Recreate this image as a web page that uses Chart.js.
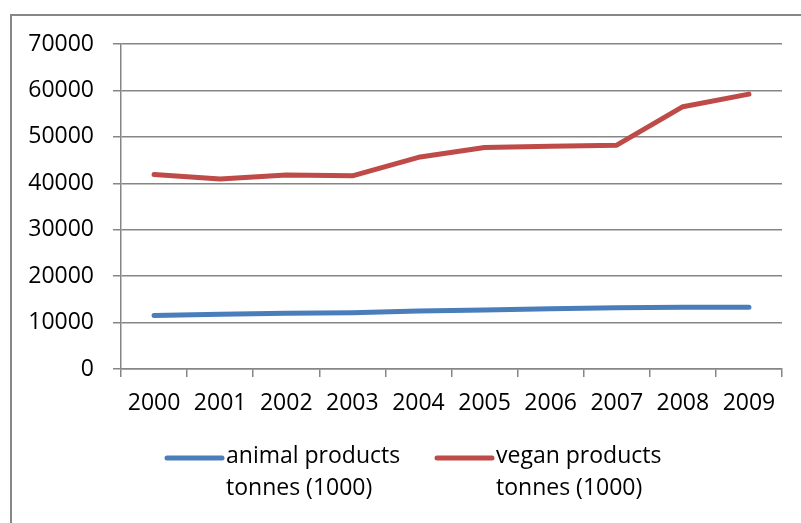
<!DOCTYPE html>
<html>
<head>
<meta charset="utf-8">
<script src="https://cdn.jsdelivr.net/npm/chart.js@4/dist/chart.umd.min.js"></script>
<style>
  html, body { margin: 0; padding: 0; background: #ffffff; }
  #wrap { width: 801px; height: 523px; position: relative; }
</style>
</head>
<body>
<div id="wrap"><canvas id="chart" width="801" height="523"></canvas></div>
<script>
// Years on the category axis
const years = ['2000', '2001', '2002', '2003', '2004', '2005', '2006', '2007', '2008', '2009'];

// Production, thousands of tonnes
const animalProducts = [11500, 11800, 12000, 12100, 12500, 12700, 13000, 13200, 13300, 13300];
const veganProducts  = [41900, 40900, 41800, 41600, 45600, 47700, 48000, 48200, 56500, 59200];

// Legend names (two lines each)
const animalName = ['animal products', 'tonnes (1000)'];
const veganName  = ['vegan products', 'tonnes (1000)'];

// Value axis ticks
const yTicks = [0, 10000, 20000, 30000, 40000, 50000, 60000, 70000];

const AXIS_GREY = '#868686';
const FONT_FAMILY = '"Open Sans", "Noto Sans", sans-serif';
const FONT = { family: FONT_FAMILY, size: 23 };

// Grey frame around the chart
const framePlugin = {
  id: 'frame',
  beforeDraw(chart) {
    const ctx = chart.ctx;
    ctx.save();
    ctx.fillStyle = '#ffffff';
    ctx.fillRect(0, 0, chart.width, chart.height);
    ctx.strokeStyle = '#878787';
    ctx.lineWidth = 2;
    ctx.beginPath();
    ctx.moveTo(11, chart.height + 2);
    ctx.lineTo(11, 15);
    ctx.lineTo(chart.width + 2, 15);
    ctx.stroke();
    ctx.restore();
  }
};

// Legend below the axis: a line sample followed by a two-line name
const legendSlots = [
  { lineX: 167, textX: 226 },
  { lineX: 437, textX: 496 }
];
const bottomLegendPlugin = {
  id: 'bottomLegend',
  afterDraw(chart) {
    const ctx = chart.ctx;
    const firstLineY = 456;
    const lineStep = 32;
    ctx.save();
    chart.data.datasets.forEach((ds, i) => {
      const slot = legendSlots[i];
      ctx.strokeStyle = ds.borderColor;
      ctx.lineWidth = ds.borderWidth;
      ctx.lineCap = 'round';
      ctx.beginPath();
      ctx.moveTo(slot.lineX, firstLineY + 2);
      ctx.lineTo(slot.lineX + 55, firstLineY + 2);
      ctx.stroke();
      ctx.fillStyle = '#000000';
      ctx.font = `${FONT.size}px ${FONT_FAMILY}`;
      ctx.textAlign = 'left';
      ctx.textBaseline = 'middle';
      const lines = Array.isArray(ds.label) ? ds.label : [ds.label];
      lines.forEach((t, k) => ctx.fillText(t, slot.textX, firstLineY + k * lineStep));
    });
    ctx.restore();
  }
};

new Chart(document.getElementById('chart'), {
  type: 'line',
  data: {
    labels: years,
    datasets: [
      {
        label: animalName,
        data: animalProducts,
        borderColor: '#4A7EBB',
        backgroundColor: '#4A7EBB',
        borderWidth: 5,
        borderCapStyle: 'round',
        borderJoinStyle: 'round',
        pointRadius: 0,
        tension: 0
      },
      {
        label: veganName,
        data: veganProducts,
        borderColor: '#BE4B48',
        backgroundColor: '#BE4B48',
        borderWidth: 5,
        borderCapStyle: 'round',
        borderJoinStyle: 'round',
        pointRadius: 0,
        tension: 0
      }
    ]
  },
  options: {
    responsive: false,
    animation: false,
    layout: { padding: { left: 0, right: 19, top: 44, bottom: 0 } },
    plugins: {
      tooltip: { enabled: false },
      legend: { display: false }
    },
    scales: {
      x: {
        offset: true,
        grid: {
          offset: true,
          drawOnChartArea: false,
          drawTicks: true,
          tickLength: 8,
          color: AXIS_GREY,
          lineWidth: 1.5
        },
        border: { color: AXIS_GREY, width: 1.5 },
        ticks: { color: '#000000', font: FONT, padding: 13, maxRotation: 0 },
        afterFit(scale) { scale.height = 154; }
      },
      y: {
        min: 0,
        max: 70000,
        afterBuildTicks(scale) { scale.ticks = yTicks.map(v => ({ value: v })); },
        grid: {
          color: AXIS_GREY,
          lineWidth: 1.5,
          drawTicks: true,
          tickLength: 8
        },
        border: { color: AXIS_GREY, width: 1.5 },
        ticks: {
          color: '#000000',
          font: FONT,
          padding: 19,
          callback: v => String(v)
        },
        afterFit(scale) { scale.width = 121; }
      }
    }
  },
  plugins: [framePlugin, bottomLegendPlugin]
});
</script>
</body>
</html>
